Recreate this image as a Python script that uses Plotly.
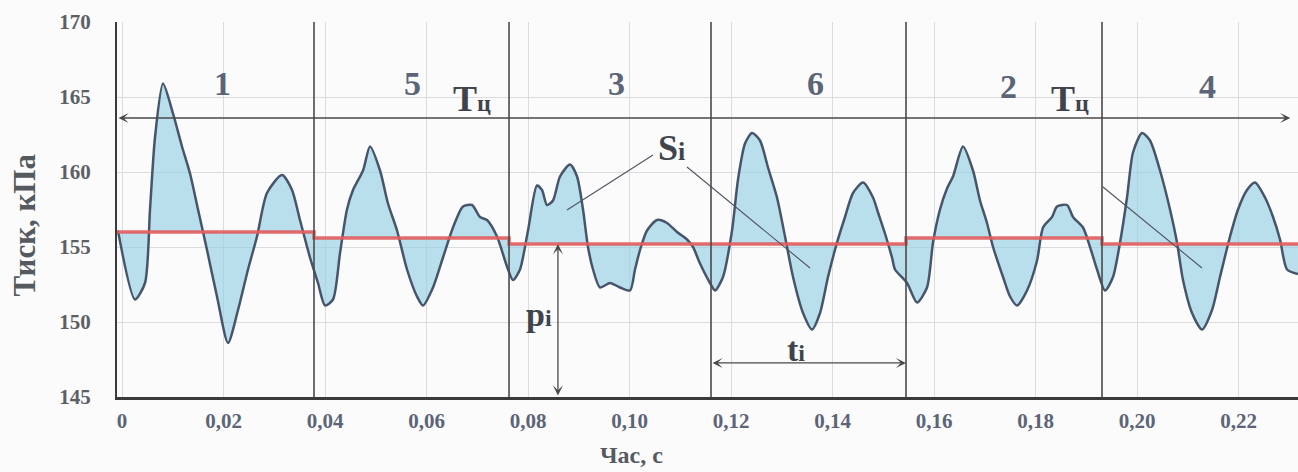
import plotly.graph_objects as go

# ---- data ----
time_s = [-0.0008, 0.00256, 0.00453, 0.00552, 0.0065, 0.00808, 0.01005, 0.01182, 0.0134, 0.01498,
          0.01675, 0.01872, 0.02089, 0.02286, 0.02483, 0.0266, 0.02857, 0.03153, 0.0335, 0.03507,
          0.03704, 0.03862, 0.0400, 0.04158, 0.04296, 0.04433, 0.04552, 0.04749, 0.04887, 0.05084,
          0.05241, 0.05419, 0.05616, 0.05813, 0.05931, 0.06128, 0.06325, 0.06522, 0.06719, 0.06897,
          0.07054, 0.07192, 0.07389, 0.07586, 0.07704, 0.07842, 0.0800, 0.08177, 0.08276, 0.08374,
          0.08493, 0.0863, 0.08828, 0.08966, 0.09084, 0.09182, 0.09281, 0.09419, 0.09616, 0.09813,
          0.1001, 0.10108, 0.10207, 0.10345, 0.10542, 0.10739, 0.10936, 0.11133, 0.11251, 0.11389,
          0.11586, 0.11685, 0.11842, 0.1202, 0.12138, 0.12276, 0.12414, 0.12571, 0.12729, 0.12906,
          0.13064, 0.13222, 0.13419, 0.13596, 0.13754, 0.13911, 0.14089, 0.14246, 0.14404, 0.14601,
          0.14798, 0.14897, 0.15034, 0.15172, 0.15232, 0.15468, 0.15665, 0.15862, 0.1598, 0.16118,
          0.16256, 0.16374, 0.16571, 0.16768, 0.16906, 0.17044, 0.17163, 0.1736, 0.17498, 0.17635,
          0.17833, 0.1803, 0.18148, 0.18325, 0.18424, 0.18621, 0.18739, 0.18936, 0.19074, 0.19212,
          0.1937, 0.19527, 0.19665, 0.19803, 0.19921, 0.20099, 0.20256, 0.20453, 0.2065, 0.20788,
          0.20906, 0.21084, 0.21281, 0.21478, 0.21635, 0.21833, 0.2199, 0.22167, 0.22325, 0.22522,
          0.2268, 0.22818, 0.22956, 0.2317]
pressure_kpa = [156.1, 151.5, 152.6, 157.5, 162.3, 165.9, 163.9, 161.7, 159.9, 157.5,
                154.8, 151.7, 148.6, 150.8, 153.5, 155.7, 158.6, 159.8, 158.8, 156.8,
                154.3, 152.6, 151.1, 151.5, 154.6, 157.5, 158.8, 160.1, 161.7, 160.1,
                157.9, 156.1, 153.5, 151.7, 151.1, 152.3, 154.3, 156.3, 157.7, 157.8,
                157.0, 156.8, 155.7, 153.7, 152.8, 153.5, 156.1, 159.1, 158.8, 157.8,
                158.1, 159.7, 160.5, 159.7, 157.5, 155.0, 153.5, 152.3, 152.6, 152.3,
                152.1, 153.5, 154.8, 156.1, 156.8, 156.6, 156.0, 155.5, 155.0, 153.9,
                152.6, 152.1, 153.0, 156.1, 159.5, 161.9, 162.6, 162.1, 160.3, 158.3,
                155.7, 153.0, 150.6, 149.5, 150.6, 153.0, 155.3, 157.0, 158.6, 159.3,
                158.3, 157.3, 155.9, 154.3, 153.5, 152.6, 151.3, 152.3, 155.3, 157.5,
                158.9, 159.7, 161.7, 160.1, 158.1, 156.6, 155.0, 153.0, 151.7, 151.1,
                152.1, 154.1, 156.3, 157.0, 157.7, 157.8, 157.0, 156.3, 155.0, 153.5,
                152.1, 153.0, 155.3, 158.3, 161.3, 162.6, 162.1, 160.1, 157.5, 155.3,
                152.8, 150.6, 149.5, 150.8, 153.0, 155.7, 157.5, 158.8, 159.3, 158.3,
                157.0, 155.5, 153.5, 153.2]

cycle_bounds = [-0.000985, 0.03783, 0.07626, 0.11606, 0.15448, 0.1931, 0.23172]
cycle_means = [156.0, 155.6, 155.2, 155.2, 155.6, 155.2]
cycle_labels = ["1", "5", "3", "6", "2", "4"]

x_tick_vals = [0, 0.02, 0.04, 0.06, 0.08, 0.10, 0.12, 0.14, 0.16, 0.18, 0.20, 0.22]
x_tick_text = ["0", "0,02", "0,04", "0,06", "0,08", "0,10", "0,12", "0,14", "0,16", "0,18", "0,20", "0,22"]
y_tick_vals = [145, 150, 155, 160, 165, 170]

SERIF = "Liberation Serif, Times New Roman, serif"

# step line of the cycle means
mean_x, mean_y = [], []
for i, m in enumerate(cycle_means):
    mean_x += [cycle_bounds[i], cycle_bounds[i + 1]]
    mean_y += [m, m]

fig = go.Figure()
fig.add_trace(go.Scatter(x=mean_x, y=mean_y, mode="lines", line=dict(width=0),
                         hoverinfo="skip", showlegend=False))
fig.add_trace(go.Scatter(x=time_s, y=pressure_kpa, mode="lines", fill="tonexty",
                         fillcolor="rgba(150,208,228,0.65)",
                         line=dict(color="#46556b", width=2.5, shape="spline", smoothing=0.7),
                         showlegend=False))
fig.add_trace(go.Scatter(x=mean_x, y=mean_y, mode="lines",
                         line=dict(color="rgba(226,92,92,0.9)", width=3.5), showlegend=False))

shapes = []
# cycle boundary vertical lines
for b in cycle_bounds[1:-1]:
    shapes.append(dict(type="line", xref="x", yref="y", x0=b, x1=b, y0=145, y1=170,
                       line=dict(color="#4a4a4a", width=1.6)))
# Si pointer lines
for (x0, y0, x1, y1) in [(0.10463, 161.13, 0.08768, 157.47),
                         (0.11133, 160.33, 0.13557, 153.6),
                         (0.1933, 159.0, 0.2128, 153.6)]:
    shapes.append(dict(type="line", xref="x", yref="y", x0=x0, y0=y0, x1=x1, y1=y1,
                       line=dict(color="#4d5560", width=1.1)))

annotations = []
label_pos = [(0.0199, 165.9), (0.0573, 165.9), (0.0975, 165.9),
             (0.1366, 165.9), (0.1746, 165.7), (0.2138, 165.7)]
for lab, (lx, ly) in zip(cycle_labels, label_pos):
    annotations.append(dict(x=lx, y=ly, text=lab, showarrow=False,
                            font=dict(family=SERIF, size=34, color="#5c6578", weight="bold")))

for tx in (0.0690, 0.1868):
    annotations.append(dict(x=tx, y=164.9, text="Т<span style='font-size:24px'>ц</span>",
                            showarrow=False,
                            font=dict(family=SERIF, size=36, color="#3f444c", weight="bold")))

annotations.append(dict(x=0.1083, y=161.6, text="S<span style='font-size:26px'>i</span>",
                        showarrow=False, font=dict(family=SERIF, size=36, color="#3f444c", weight="bold")))
annotations.append(dict(x=0.0822, y=150.5, text="p<span style='font-size:24px'>i</span>",
                        showarrow=False, font=dict(family=SERIF, size=34, color="#3f444c", weight="bold")))
annotations.append(dict(x=0.1328, y=148.2, text="t<span style='font-size:24px'>i</span>",
                        showarrow=False, font=dict(family=SERIF, size=34, color="#3f444c", weight="bold")))

# double arrows
arrow_style = dict(showarrow=True, text="", axref="x", ayref="y", arrowside="end+start",
                   arrowhead=3, startarrowhead=3, arrowsize=1.3, startarrowsize=1.3,
                   arrowwidth=1.3, arrowcolor="#4a4a4a")
annotations.append(dict(x=0.2302, y=163.6, ax=-0.000985, ay=163.6, **arrow_style))   # Tц
annotations.append(dict(x=0.0859, y=155.2, ax=0.0859, ay=145.0, **arrow_style))      # pi
annotations.append(dict(x=0.15448, y=147.27, ax=0.11606, ay=147.27, **arrow_style))  # ti

# axis titles
annotations.append(dict(xref="paper", yref="paper", x=-0.078, y=0.46, text="Тиск, кПа",
                        xanchor="center", yanchor="middle",
                        textangle=-90, showarrow=False,
                        font=dict(family=SERIF, size=31, color="#555a60", weight="bold")))
annotations.append(dict(xref="paper", yref="paper", x=0.436, y=-0.155, text="Час, с",
                        xanchor="center", yanchor="middle",
                        showarrow=False,
                        font=dict(family=SERIF, size=24, color="#555a60", weight="bold")))

fig.update_layout(
    width=1298, height=472,
    margin=dict(l=117, r=0, t=22, b=75),
    paper_bgcolor="#fbfbfb", plot_bgcolor="#fbfbfb",
    shapes=shapes, annotations=annotations, showlegend=False,
)
fig.update_xaxes(range=[-0.000985, 0.23172], tickvals=x_tick_vals, ticktext=x_tick_text,
                 showgrid=True, gridcolor="#dcdcdc", gridwidth=1, zeroline=False,
                 showline=True, linecolor="#3a3a3a", linewidth=2.5, ticks="",
                 ticklabelstandoff=3,
                 tickfont=dict(family=SERIF, size=21, color="#5c6578", weight="bold"))
fig.update_yaxes(range=[145, 170], tickvals=y_tick_vals,
                 showgrid=True, gridcolor="#dcdcdc", gridwidth=1, zeroline=False,
                 showline=True, linecolor="#3a3a3a", linewidth=2, ticks="",
                 ticklabelstandoff=20,
                 tickfont=dict(family=SERIF, size=21, color="#5c6065", weight="bold"))

fig.write_html("out.html")
